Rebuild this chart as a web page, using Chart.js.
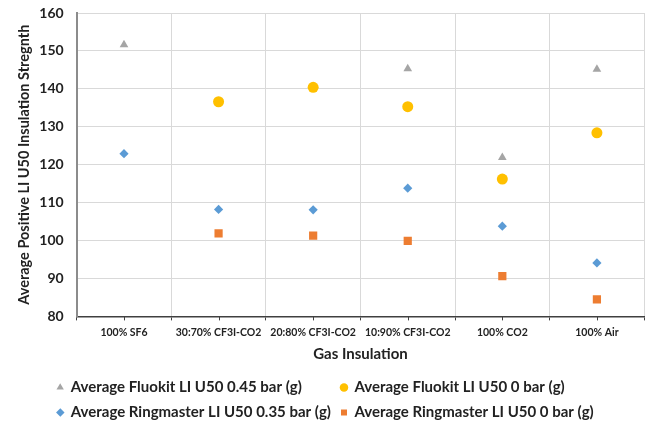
<!DOCTYPE html>
<html>
<head>
<meta charset="utf-8">
<title>Gas Insulation</title>
<script src="https://cdn.jsdelivr.net/npm/chart.js@4.4.1/dist/chart.umd.min.js"></script>
<style>
  html, body { margin: 0; padding: 0; background: #fff; }
  #grafico { display: block; }
</style>
</head>
<body>
<canvas id="grafico" width="650" height="423"></canvas>
<script>
// Datos
const categorias = ['100% SF6', '30:70% CF3I-CO2', '20:80% CF3I-CO2', '10:90% CF3I-CO2', '100% CO2', '100% Air'];
const fluokit045 = [151.6, null, null, 145.3, 121.9, 145.2];
const fluokit0 = [null, 136.6, 140.4, 135.3, 116.2, 128.4];
const ringmaster035 = [122.9, 108.2, 108.1, 113.8, 103.8, 94.1];
const ringmaster0 = [null, 101.9, 101.3, 99.9, 90.6, 84.5];
const ejeY = { min: 80, max: 160, paso: 10 };

const fuente = 'Lato, "Open Sans", sans-serif';
const tamLeyenda = 15;

function serie(label, data, color, estilo, radio) {
    return {
        label: label,
        data: data,
        showLine: false,
        pointStyle: estilo,
        pointRadius: radio,
        pointHoverRadius: radio,
        pointBackgroundColor: color,
        pointBorderColor: color,
        pointBorderWidth: 0,
        backgroundColor: color,
        borderColor: color
    };
}

// Marcas pequeñas en el centro de cada categoría (como en Excel)
const marcasCentro = {
    id: 'marcasCentro',
    afterDraw(chart) {
        const x = chart.scales.x;
        const ctx = chart.ctx;
        ctx.save();
        ctx.strokeStyle = '#404040';
        ctx.lineWidth = 1;
        x.ticks.forEach((t, i) => {
            const px = Math.round(x.getPixelForTick(i)) + 0.5;
            ctx.beginPath();
            ctx.moveTo(px, x.top);
            ctx.lineTo(px, x.top + 4);
            ctx.stroke();
        });
        ctx.restore();
    }
};

// Bajar la leyenda y centrarla un poco más a la izquierda
const moverLeyenda = {
    id: 'moverLeyenda',
    afterLayout(chart) {
        const l = chart.legend;
        if (!l) return;
        l.top += 7;
        l.bottom += 7;
        l.left -= 5;
        l.right -= 5;
    }
};

// Igualar el ancho de las etiquetas de cada columna para que la leyenda quede en columnas
function etiquetasEnColumnas(chart) {
    const items = Chart.defaults.plugins.legend.labels.generateLabels(chart);
    const ctx = chart.ctx;
    ctx.save();
    ctx.font = 'bold ' + tamLeyenda + 'px ' + fuente;
    [[0, 2], [1, 3]].forEach(par => {
        const a = items[par[0]], b = items[par[1]];
        const ancho = Math.max(ctx.measureText(a.text).width, ctx.measureText(b.text).width);
        [a, b].forEach(it => {
            while (ctx.measureText(it.text).width < ancho - 1) it.text += ' ';
        });
    });
    ctx.restore();
    return items;
}

const config = {
    type: 'line',
    data: {
        labels: categorias,
        datasets: [
            serie('Average Fluokit LI U50 0.45 bar (g)', fluokit045, '#A5A5A5', 'triangle', 5),
            serie('Average Fluokit LI U50 0 bar (g)', fluokit0, '#FFC000', 'circle', 5.5),
            serie('Average Ringmaster LI U50 0.35 bar (g)', ringmaster035, '#5B9BD5', 'rectRot', 4.6),
            serie('Average Ringmaster LI U50 0 bar (g)', ringmaster0, '#ED7D31', 'rect', 5.8)
        ]
    },
    options: {
        responsive: false,
        animation: false,
        layout: { padding: { left: 12, right: 1, top: 0, bottom: 0 } },
        plugins: {
            tooltip: { enabled: false },
            legend: {
                position: 'bottom',
                align: 'center',
                labels: {
                    usePointStyle: true,
                    boxWidth: 6,
                    boxHeight: 6,
                    padding: 10,
                    color: '#222',
                    font: { family: fuente, size: tamLeyenda, weight: 'bold' },
                    generateLabels: etiquetasEnColumnas
                }
            }
        },
        scales: {
            x: {
                offset: true,
                grid: {
                    offset: true,
                    color: '#d9d9d9',
                    tickColor: '#404040',
                    tickLength: 4
                },
                border: { color: '#404040', width: 1.5 },
                ticks: {
                    color: '#222',
                    font: { family: fuente, size: 10.5, weight: 'bold' },
                    maxRotation: 0,
                    autoSkip: false,
                    padding: 5.5
                },
                title: {
                    display: true,
                    text: 'Gas Insulation',
                    color: '#222',
                    font: { family: fuente, size: 15, weight: 'bold' },
                    padding: { top: 1, bottom: 0 }
                }
            },
            y: {
                min: ejeY.min,
                max: ejeY.max,
                grid: { color: '#d9d9d9', drawTicks: false },
                border: { color: '#8c8c8c', width: 2 },
                ticks: {
                    stepSize: ejeY.paso,
                    color: '#222',
                    padding: 13,
                    font: { family: fuente, size: 14, weight: 'bold' }
                },
                title: {
                    display: true,
                    text: 'Average Positive LI U50 Insulation Stregnth',
                    color: '#222',
                    font: { family: fuente, size: 14.5, weight: 'bold' },
                    padding: { top: 4, bottom: 0 }
                },
                afterFit(escala) {
                    // el área del gráfico empieza más arriba y el eje en x≈77
                    escala.paddingTop = 13;
                    escala.width = 64.7;
                }
            }
        }
    },
    plugins: [marcasCentro, moverLeyenda]
};

new Chart(document.getElementById('grafico'), config);
</script>
</body>
</html>
